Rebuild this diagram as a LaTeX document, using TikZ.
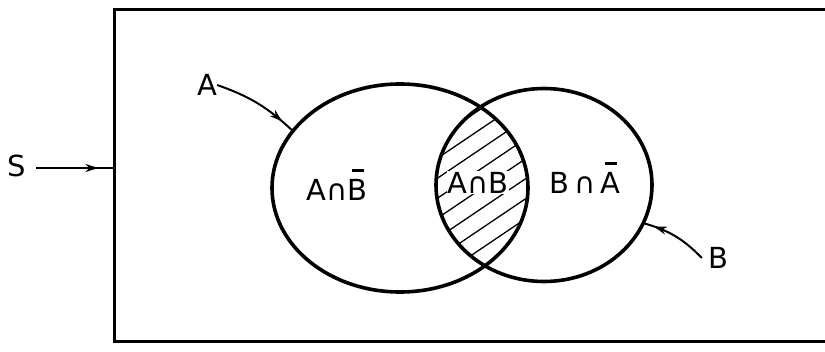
\documentclass[tikz,border=0pt]{standalone}
\usepackage{fontspec}
\setmainfont{DejaVu Sans}
\usetikzlibrary{arrows.meta,shapes.geometric,decorations.markings}
\newcommand{\obar}[1]{\leavevmode\rlap{\hspace{0.14em}\rule[0.98em]{0.42em}{2.2pt}}#1}
\begin{document}
\begin{tikzpicture}[x=1pt,y=-1pt,
  lbl/.style={font=\fontsize{29}{31}\selectfont, inner sep=0pt},
  setline/.style={line width=3.6pt},
  ptr/.style={line width=2pt, postaction={decorate},
    decoration={markings, mark=at position #1 with {\arrow{Stealth[length=13pt,width=8pt,inset=4pt]}}}},
  hatch/.style={line width=1.3pt}]
\useasboundingbox (0,0) rectangle (825,351);
% universe
\node[draw, line width=3pt, minimum width=716pt, minimum height=332pt, inner sep=0pt, outer sep=0pt] (box) at (472,175) {};
% hatching of intersection
\begin{scope}
  \clip (400,188) ellipse [x radius=128pt, y radius=104pt];
  \clip (544,185) ellipse [x radius=108pt, y radius=96.5pt];
  \foreach \c in {90,110,...,400}
    \draw[hatch] (420,\c) -- (560,\c-94.5);
\end{scope}
% sets
\node[ellipse, draw, setline, minimum width=256pt, minimum height=208pt, inner sep=0pt, outer sep=0pt] (setA) at (400,188) {};
\node[ellipse, draw, setline, minimum width=216pt, minimum height=193pt, inner sep=0pt, outer sep=0pt] (setB) at (544,185) {};
% labels
\node[lbl] (S) at (17,166) {S};
\node[lbl] (labA) at (207,85) {A};
\node[lbl] (labB) at (718,258) {B};
\node[lbl, anchor=base] (AnotB) at (337,200) {A∩\obar{B}};
\node[lbl, anchor=base, fill=white, inner sep=1pt] (AB) at (478,193) {A∩B};
\node[lbl, anchor=base] (BnotA) at (585,193) {B\,∩\,\obar{A}};
% pointers
\draw[ptr=0.8] (S.east) ++(10,2) coordinate (sStart) -- (sStart -| box.west);
\draw[ptr=0.84] (labA.east) to[bend left=12] (setA.152);
\draw[ptr=0.84] ([xshift=-6pt]labB.west) to[bend right=15] (setB.-21);
\end{tikzpicture}
\end{document}
